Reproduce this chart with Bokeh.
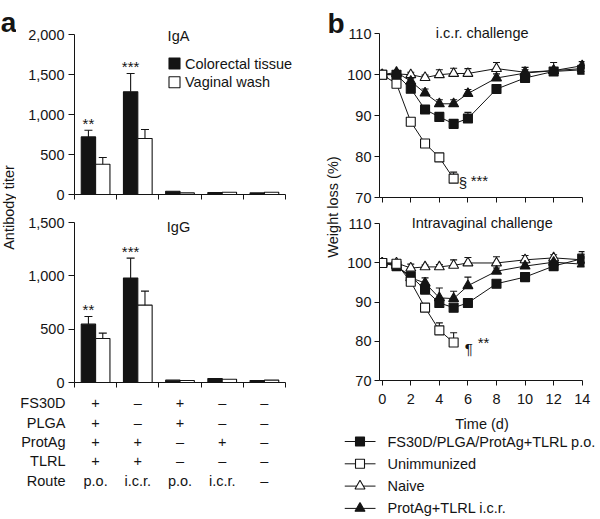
import math
from bokeh.plotting import figure
from bokeh.layouts import row, column
from bokeh.models import (Range1d, FixedTicker, NumeralTickFormatter, CustomJSTickFormatter,
                          Whisker, TeeHead, ColumnDataSource)
from bokeh.embed import file_html
from bokeh.resources import INLINE
from bokeh.core.properties import value

FONT = "Liberation Sans"
FS = "14.5px"
INK = "#141414"

# ---------------- data: panel a (antibody titers) ----------------
n_groups = 5
iga_colorectal = [720, 1283, 41, 25, 20]
iga_colorectal_err = [84, 229, 0, 0, 0]
iga_vaginal = [379, 700, 20, 29, 29]
iga_vaginal_err = [83, 112, 0, 0, 0]
igg_colorectal = [547, 979, 22, 37, 19]
igg_colorectal_err = [72, 187, 0, 0, 0]
igg_vaginal = [413, 725, 19, 31, 22]
igg_vaginal_err = [50, 132, 0, 0, 0]
iga_stars = ["**", "***", "", "", ""]
igg_stars = ["**", "***", "", "", ""]
iga_ticks = [0, 500, 1000, 1500, 2000]
igg_ticks = [0, 500, 1000, 1500]
table_rows = ["FS30D", "PLGA", "ProtAg", "TLRL", "Route"]
table_cells = [
    ["+", "\u2013", "+", "\u2013", "\u2013"],
    ["+", "\u2013", "+", "\u2013", "\u2013"],
    ["+", "+", "\u2013", "+", "\u2013"],
    ["+", "+", "\u2013", "\u2013", "\u2013"],
    ["p.o.", "i.c.r.", "p.o.", "i.c.r.", "\u2013"],
]

# ---------------- data: panel b (weight) ----------------
days = [0, 1, 2, 3, 4, 5, 6, 8, 10, 12, 14]
day_ticks = [0, 2, 4, 6, 8, 10, 12, 14]
weight_ticks = [70, 80, 90, 100, 110]
icr_fs30d = [100, 100, 96.6, 91.5, 89.7, 88.0, 89.3, 96.5, 99.2, 100.8, 101.2]
icr_fs30d_err = [0, 0.3, 0.5, 0.6, 0.6, 0.9, 1.5, 0.6, 0.5, 0.5, 0.5]
icr_unimm = [100, 97.8, 88.5, 83.2, 79.8, 74.6]
icr_unimm_err = [0, 0.4, 0.5, 0.5, 0.6, 1.6]
icr_naive = [100, 100.2, 100, 99.3, 100, 100.3, 100.3, 101.5, 100.6, 101, 101.5]
icr_naive_err = [0, 0.3, 0.6, 0.6, 1.2, 1.3, 1.2, 1.5, 1.2, 2.0, 0.8]
icr_prot = [100, 100.6, 98.4, 95.5, 92.9, 92.9, 95.4, 99.2, 100.4, 101, 102.2]
icr_prot_err = [0, 0.4, 0.6, 1.0, 1.0, 1.0, 1.0, 1.0, 0.8, 0.6, 1.0]
iv_fs30d = [100, 99.2, 96.6, 93.2, 89.8, 88.6, 89.8, 94.7, 96.4, 99.2, 101.1]
iv_fs30d_err = [0, 0.3, 0.5, 0.6, 0.8, 0.8, 0.5, 0.5, 0.5, 0.5, 1.8]
iv_unimm = [100, 99.8, 95.2, 88.6, 82.8, 79.7]
iv_unimm_err = [0, 0.3, 0.5, 0.8, 1.9, 2.5]
iv_naive = [100, 100, 98.7, 99, 99, 99.4, 100, 100, 100.8, 101.3, 100.8]
iv_naive_err = [0, 0.3, 1.0, 0.5, 0.6, 1.4, 1.4, 1.6, 1.1, 0.8, 0.8]
iv_prot = [100, 99.4, 96.2, 94.9, 91.1, 90.9, 94.2, 97.9, 99.2, 100.2, 99.7]
iv_prot_err = [0, 0.3, 0.5, 1.3, 2.5, 1.9, 2.2, 0.8, 0.8, 0.8, 0.8]
legend_labels = ["FS30D/PLGA/ProtAg+TLRL p.o.", "Unimmunized", "Naive", "ProtAg+TLRL i.c.r."]
x_title = "Time (d)"

# ---------------- layout (page pixels; page has no margin) ----------------
PAGE_H = 519
LA_X0, LA_W = 0, 16          # left label strip
A_X0, A_W = 16, 284          # panel a column
A_FL = 74                    # x of the y axis (group boundary 0)
A_AX_R = 285                 # x of last group boundary (axis end)
A_FR = 298                   # frame right edge (room for legend text)
CAT_PX = (A_AX_R - A_FL) / n_groups
A_MR = A_X0 + A_W - A_FR
LB_X0, LB_W = 300, 44        # middle label strip
B_X0, B_W = 344, 256         # panel b column
B_FL, B_FR = 379, 584
B_MR = B_X0 + B_W - B_FR
X0_PX, X14_PX = 381.7, 581.7
DAY_PX = (X14_PX - X0_PX) / 14.0
B_XR = (-(X0_PX - B_FL) / DAY_PX, 14 + (B_FR - X14_PX) / DAY_PX)

blank = CustomJSTickFormatter(code="return ''")


def base_fig(w, h, xr, yr, l, r, t, b, axes=True):
    kw = {}
    if not axes:
        kw = dict(x_axis_type=None, y_axis_type=None)
    p = figure(width=w, height=h, x_range=xr, y_range=yr, output_backend="svg",
               toolbar_location=None, min_border_left=l, min_border_right=r,
               min_border_top=t, min_border_bottom=b, frame_align=False, **kw)
    p.outline_line_color = None
    p.grid.visible = False
    p.background_fill_color = "white"
    p.border_fill_color = "white"
    for ax in p.axis:
        ax.axis_line_color = INK
        ax.axis_line_width = 1
        ax.major_tick_line_color = INK
        ax.major_tick_line_width = 1
        ax.major_tick_in = 0
        ax.major_tick_out = 6
        ax.minor_tick_line_color = None
        ax.major_label_text_font = FONT
        ax.major_label_text_font_size = FS
        ax.major_label_text_color = INK
    return p


def texts(p, xs, ys, ts, align="center", baseline="middle", size=FS, style="normal",
          angle=0, dx=0, dy=0):
    p.text(x=xs, y=ys, text=ts, text_font=value(FONT), text_font_size=size,
           text_font_style=style, text_align=align, text_baseline=baseline,
           text_color=INK, angle=angle, x_offset=dx, y_offset=dy)


def whiskers(p, xs, tops, errs, head=7, level="annotation"):
    sel = [i for i, e in enumerate(errs) if e > 0]
    src = ColumnDataSource(dict(base=[xs[i] for i in sel],
                                lower=[tops[i] for i in sel],
                                upper=[tops[i] + errs[i] for i in sel]))
    w = Whisker(source=src, base="base", lower="lower", upper="upper",
                dimension="height", line_color=INK, line_width=1.1,
                upper_head=TeeHead(size=head, line_color=INK, line_width=1.1),
                lower_head=None, level=level)
    p.add_layout(w)


# ---------------- panel a ----------------
def bar_panel(h, top_m, bot_m, ymax, ticks, black, black_err, white, white_err, stars,
              title, title_py, zero_py, top_py):
    # zero_py / top_py: figure-relative y of value 0 and of value ymax
    upp = ymax / (zero_py - top_py)                   # units per pixel
    y_end = (h - bot_m - top_m) * upp
    x_end = n_groups + (A_FR - A_AX_R) / CAT_PX
    p = base_fig(A_W, h, Range1d(0, x_end), Range1d(0, y_end),
                 A_FL - A_X0, A_MR, top_m, bot_m)
    p.yaxis.ticker = FixedTicker(ticks=ticks)
    p.yaxis.bounds = (0, ymax)
    p.yaxis.formatter = NumeralTickFormatter(format="0,0")
    p.yaxis.major_label_standoff = 4
    p.xaxis.ticker = FixedTicker(ticks=list(range(n_groups + 1)))
    p.xaxis.bounds = (0, n_groups)
    p.xaxis.formatter = blank
    p.xaxis.major_label_standoff = 0
    p.xaxis.major_tick_out = 5
    centers = [i + 0.5 for i in range(n_groups)]
    bx = [c - 0.17 for c in centers]
    wx = [c + 0.17 for c in centers]
    p.vbar(x=bx, top=black, bottom=0, width=0.34, fill_color=INK, line_color=INK, line_width=1.1)
    p.vbar(x=wx, top=white, bottom=0, width=0.34, fill_color="white", line_color=INK, line_width=1.1)
    whiskers(p, bx, black, black_err, head=8)
    whiskers(p, wx, white, white_err, head=8)
    sel = [i for i, s in enumerate(stars) if s]
    texts(p, [bx[i] for i in sel], [black[i] + black_err[i] for i in sel],
          [stars[i] for i in sel], size="15px", dy=-7)
    texts(p, [(178 - A_FL) / CAT_PX], [(zero_py - title_py) * upp], [title])
    return p, upp


fa1, upp1 = bar_panel(205, 20, 205 - 194, 2000, iga_ticks, iga_colorectal, iga_colorectal_err,
                      iga_vaginal, iga_vaginal_err, iga_stars, "IgA", 35, 194, 34)
fa2, upp2 = bar_panel(187, 7, 392 - 382, 1500, igg_ticks, igg_colorectal, igg_colorectal_err,
                      igg_vaginal, igg_vaginal_err, igg_stars, "IgG", 226.7 - 205, 382 - 205, 222 - 205)

# legend of panel a (inside IgA frame)
leg_a_x = (174 - A_FL) / CAT_PX
leg_a_tx = (184.5 - A_FL) / CAT_PX
leg_a_y = [(194 - 63) * upp1, (194 - 81.7) * upp1]
fa1.scatter(x=[leg_a_x, leg_a_x], y=leg_a_y, marker="square", size=11,
            fill_color=[INK, "white"], line_color=INK, line_width=1.1)
texts(fa1, [leg_a_tx, leg_a_tx], leg_a_y, ["Colorectal tissue", "Vaginal wash"], align="left")

# table under panel a
TAB_TOP = 392
tab = base_fig(A_W, PAGE_H - TAB_TOP,
               Range1d(-(A_FL - A_X0) / CAT_PX, (A_X0 + A_W - A_FL) / CAT_PX),
               Range1d(PAGE_H, TAB_TOP), 0, 0, 0, 0, axes=False)
row_y = [402.7 + i * 19.4 for i in range(len(table_rows))]
texts(tab, [(65 - A_FL) / CAT_PX] * len(table_rows), row_y, table_rows, align="right")
cx, cy, ct = [], [], []
for ri, cells in enumerate(table_cells):
    for ci, c in enumerate(cells):
        cx.append(ci + 0.5)
        cy.append(row_y[ri])
        ct.append(c)
texts(tab, cx, cy, ct)

# left label strip
la = base_fig(LA_W, PAGE_H, Range1d(LA_X0, LA_X0 + LA_W), Range1d(PAGE_H, 0),
              0, 0, 0, 0, axes=False)
texts(la, [0.3], [22], ["a"], align="left", baseline="alphabetic", size="28px", style="bold")
texts(la, [8.5], [207], ["Antibody titer"], angle=math.pi / 2)


# ---------------- panel b ----------------
def weight_panel(h, top_m, bot_m, p70, p110, series, title, title_py, show_labels):
    ppu = (p70 - p110) / 40.0
    frame_h = h - top_m - bot_m
    y_end = 70 + frame_h / ppu
    p = base_fig(B_W, h, Range1d(*B_XR), Range1d(70, y_end), B_FL - B_X0, B_MR, top_m, bot_m)
    p.yaxis.ticker = FixedTicker(ticks=weight_ticks)
    p.yaxis.bounds = (70, 110)
    p.yaxis.major_tick_out = 5
    p.yaxis.major_label_standoff = 3
    p.xaxis.ticker = FixedTicker(ticks=day_ticks)
    p.xaxis.bounds = (B_XR[0], 14)
    p.xaxis.major_tick_out = 5
    if show_labels:
        p.xaxis.major_label_standoff = 8
    else:
        p.xaxis.formatter = blank
        p.xaxis.major_label_standoff = 0
    for y, err, marker, fill, size in series:
        p.line(days[:len(y)], y, line_color=INK, line_width=1)
    for y, err, marker, fill, size in series:
        whiskers(p, days[:len(y)], y, err, head=7, level="underlay")
    for y, err, marker, fill, size in series:
        p.scatter(days[:len(y)], y, marker=marker, size=size, fill_color=fill,
                  line_color=INK, line_width=1.1)
    texts(p, [7.0], [70 + (p70 - title_py) / ppu], [title])
    return p


LEG_TOP = 414
fb1 = weight_panel(205, 20, 205 - 197, 197, 33.3, [
    (icr_naive, icr_naive_err, "triangle", "white", 10),
    (icr_prot, icr_prot_err, "triangle", INK, 10),
    (icr_fs30d, icr_fs30d_err, "square", INK, 9),
    (icr_unimm, icr_unimm_err, "square", "white", 9),
], "i.c.r. challenge", 32, False)
fb2 = weight_panel(LEG_TOP - 205, 7, LEG_TOP - 380, 380 - 205, 223.3 - 205, [
    (iv_naive, iv_naive_err, "triangle", "white", 10),
    (iv_prot, iv_prot_err, "triangle", INK, 10),
    (iv_fs30d, iv_fs30d_err, "square", INK, 9),
    (iv_unimm, iv_unimm_err, "square", "white", 9),
], "Intravaginal challenge", 222.5 - 205, True)

# significance marks next to last unimmunized point
for p, y, mark, stars, dx1, dy1, dx2, dy2 in [
        (fb1, icr_unimm, "\u00a7", "***", 5, 4, 17, 1.5),
        (fb2, iv_unimm, "\u00b6", "**", 11, 6, 24, 0)]:
    xl, yl = days[len(y) - 1], y[-1]
    texts(p, [xl], [yl], [mark], align="left", size="15px", dx=dx1, dy=dy1)
    texts(p, [xl], [yl], [stars], align="left", size="15px", dx=dx2, dy=dy2)

# x title + legend of panel b (below the weight panels)
leg = base_fig(B_W, PAGE_H - LEG_TOP, Range1d(B_X0, B_X0 + B_W), Range1d(PAGE_H, LEG_TOP),
               0, 0, 0, 0, axes=False)
texts(leg, [(B_FL + B_FR) / 2], [423], [x_title])
leg_y = [441 + i * 22.3 for i in range(4)]
leg_style = [("square", INK, 9), ("square", "white", 9), ("triangle", "white", 10), ("triangle", INK, 10)]
for yy, (mk, fill, sz) in zip(leg_y, leg_style):
    leg.line([344, 375], [yy, yy], line_color=INK, line_width=1)
    leg.scatter([359.5], [yy], marker=mk, size=sz, fill_color=fill, line_color=INK, line_width=1.1)
texts(leg, [387] * 4, leg_y, legend_labels, align="left")

# middle label strip
lb = base_fig(LB_W, PAGE_H, Range1d(LB_X0, LB_X0 + LB_W), Range1d(PAGE_H, 0),
              0, 0, 0, 0, axes=False)
texts(lb, [327], [23], ["b"], align="left", baseline="alphabetic", size="28px", style="bold")
texts(lb, [332.5], [206.5], ["Weight loss (%)"], angle=math.pi / 2)

layout = row(la, column(fa1, fa2, tab), lb, column(fb1, fb2, leg))
open("out.html", "w").write(file_html(layout, INLINE))
